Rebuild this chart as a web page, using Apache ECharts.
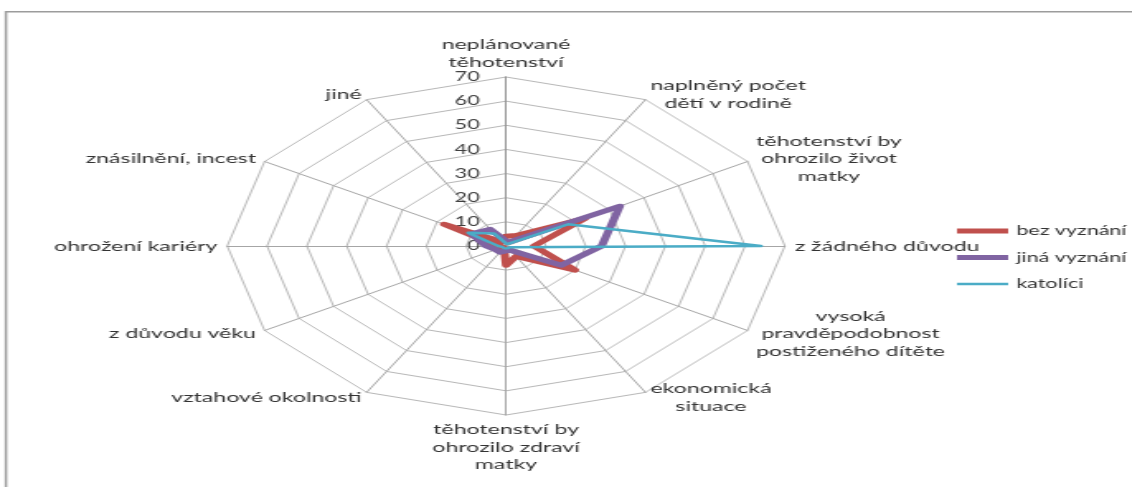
<!DOCTYPE html>
<html>
<head>
<meta charset="utf-8">
<script src="https://cdn.jsdelivr.net/npm/echarts@6/dist/echarts.min.js"></script>
<style>
  html, body { margin: 0; padding: 0; background: #fff; overflow: hidden; }
  /* the chart is laid out narrow and stretched horizontally */
  #wrap { position: absolute; left: 0; top: 0; width: 686px; height: 487px;
          transform: scaleX(1.65); transform-origin: 0 0; }
  #chart { width: 686px; height: 487px; }
</style>
</head>
<body>
<div id="wrap"><div id="chart"></div></div>
<script>
// Důvody k interrupci podle vyznání (clockwise from the top)
const categories = [
  'neplánované\ntěhotenství',
  'naplněný počet\ndětí v rodině',
  'těhotenství by\nohrozilo život\nmatky',
  'z žádného důvodu',
  'vysoká\npravděpodobnost\npostiženého dítěte',
  'ekonomická\nsituace',
  'těhotenství by\nohrozilo zdraví\nmatky',
  'vztahové okolnosti',
  'z důvodu věku',
  'ohrožení kariéry',
  'znásilnění, incest',
  'jiné'
];
const bezVyznani  = [4, 5, 23, 7, 20, 5, 8, 1, 1, 2, 18, 2];
const jinaVyznani = [2, 2, 33, 24, 16, 2, 2, 3, 3, 5, 10, 8];
const katolici    = [1, 1, 18, 64, 1, 1, 1, 1, 1, 2, 11, 6];
const seriesNames = ['bez vyznání', 'jiná vyznání', 'katolíci'];
const seriesColors = ['#C0504D', '#8064A2', '#4BACC6'];
const tickLabels = [0, 10, 20, 30, 40, 50, 60, 70];

const FONT = 'Lato, "Open Sans", sans-serif';
const axisMax = tickLabels[tickLabels.length - 1];

// ECharts places radar indicators counter-clockwise; reorder so they run clockwise
const order = [0].concat(categories.map((_, i) => i).slice(1).reverse());
const reorder = arr => order.map(i => arr[i]);

const indicators = reorder(categories).map(name => ({ name: name, max: axisMax, min: 0 }));
const seriesValues = [bezVyznani, jinaVyznani, katolici];

const thickIcon = 'path://M0,0ZM0,4.5H31V9.5H0ZM0,14Z';
const thinIcon  = 'path://M0,0ZM0,5.8H31V8.2H0ZM0,14Z';

const chart = echarts.init(document.getElementById('chart'), null, { renderer: 'canvas' });
chart.setOption({
  animation: false,
  backgroundColor: '#fff',
  textStyle: { fontFamily: FONT },
  graphic: [{
    type: 'rect', silent: true, z: 100,
    shape: { x: 3.6, y: 11.8, width: 2000, height: 2000 },
    style: { fill: 'none', stroke: '#9c9c9c', lineWidth: 1.5 }
  }],
  legend: {
    orient: 'vertical',
    left: 575, top: 219,
    itemWidth: 31, itemHeight: 14, itemGap: 12.5,
    itemStyle: { borderWidth: 0 },
    textStyle: { fontFamily: FONT, fontSize: 13, color: '#333' },
    data: seriesNames.map((n, i) => ({ name: n, icon: i < 2 ? thickIcon : thinIcon }))
  },
  grid: { left: 306.7, top: 77, width: 1, height: 169 },
  xAxis: { type: 'value', show: false },
  yAxis: {
    type: 'value',
    min: tickLabels[0], max: axisMax, interval: tickLabels[1] - tickLabels[0],
    axisLine: { show: true, lineStyle: { color: '#939393', width: 1 } },
    axisTick: { show: false },
    splitLine: { show: false },
    axisLabel: { margin: 16, fontSize: 13, color: '#404040', fontFamily: FONT }
  },
  radar: {
    center: [306.7, 246],
    radius: 169,
    startAngle: 90,
    splitNumber: tickLabels.length - 1,
    shape: 'polygon',
    nameGap: 6,
    indicator: indicators,
    axisName: {
      color: '#333',
      fontFamily: FONT,
      fontSize: 14,
      formatter: name => name.split('\n').map(s => '{c|' + s + '}').join('\n'),
      rich: { c: { align: 'center', fontSize: 14, lineHeight: 17.5, color: '#333', fontFamily: FONT } }
    },
    axisLine: { lineStyle: { color: '#a6a6a6', width: 1 } },
    splitLine: { lineStyle: { color: '#b8b8b8', width: 1 } },
    splitArea: { show: false },
    axisLabel: { show: false },
    axisTick: { show: false }
  },
  series: [{
    type: 'radar',
    symbol: 'none',
    data: seriesNames.map((n, i) => ({
      name: n,
      value: reorder(seriesValues[i]),
      lineStyle: { color: seriesColors[i], width: i < 2 ? 5 : 2.5, join: 'round', cap: 'round' },
      itemStyle: { color: seriesColors[i] },
      areaStyle: { opacity: 0 }
    }))
  }]
});
</script>
</body>
</html>
